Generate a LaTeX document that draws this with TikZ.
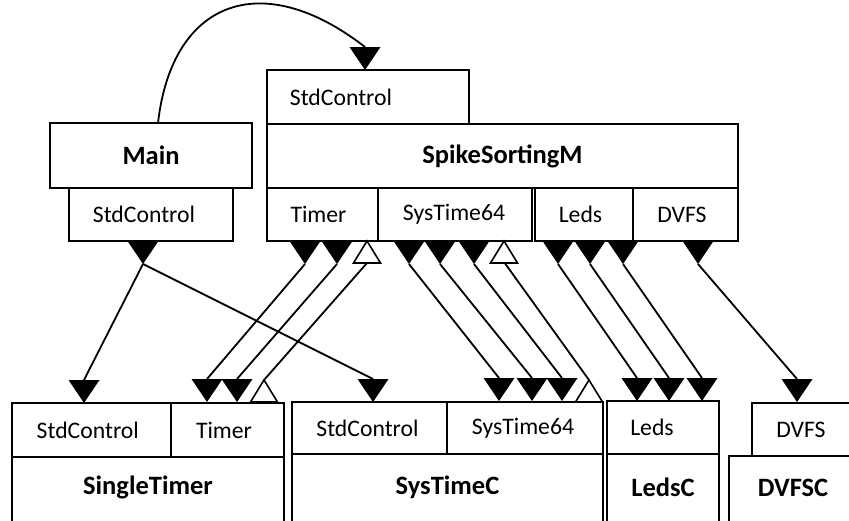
\documentclass[tikz,border=0pt]{standalone}
\usepackage{fontspec}
\setmainfont{Carlito}
\usetikzlibrary{fit}
\newcommand\lblfont{\fontsize{23.7pt}{28pt}\selectfont}
\newcommand\ttlfont{\fontsize{26.5pt}{30pt}\selectfont\bfseries}

\begin{document}
\begin{tikzpicture}[x=1pt,y=-1pt,
  box/.style={draw, line width=2pt, inner sep=0pt},
  lbl/.style={font=\lblfont, inner sep=0pt},
  ttl/.style={font=\ttlfont, inner sep=0pt},
  wire/.style={line width=1.8pt},
  sock/.pic={\fill[line join=miter] (0,0) -- (-15.5,-23) -- (15.5,-23) -- cycle;},
  plug/.pic={\draw[line width=1.6pt, fill=white, line join=miter] (0,0) -- (-13.5,22) -- (13.5,22) -- cycle;}
]
\clip (0,0) rectangle (849,520);
\fill[white] (0,0) rectangle (849,520);

% ---- Main
\node[box, fit={(50,123)(252,188)}, label={[ttl]center:Main}] (main) {};
\node[box, fit={(69,188)(233,241)}, label={[lbl,xshift=-7pt]center:StdControl}] (mainstd) {};

% ---- SpikeSortingM
\node[box, fit={(267,70)(469,124)}, label={[lbl,xshift=-27pt]center:StdControl}] (ssmstd) {};
\node[box, fit={(267,124)(738,188)}, label={[ttl]center:SpikeSortingM}] (ssm) {};
\node[box, fit={(267,188)(378,241)}, label={[lbl,xshift=-4pt]center:Timer}] (ssmtimer) {};
\node[box, fit={(378,188)(532,241)}, label={[lbl,xshift=-1pt]center:SysTime64}] (ssmsys) {};
\node[box, fit={(535,188)(633,241)}, label={[lbl,xshift=-3.5pt]center:Leds}] (ssmleds) {};
\node[box, fit={(633,188)(738,241)}, label={[lbl,xshift=-3.5pt]center:DVFS}] (ssmdvfs) {};

% ---- SingleTimer
\node[box, fit={(12,403)(171,457)}, label={[lbl,xshift=-3.7pt]center:StdControl}] (ststd) {};
\node[box, fit={(171,403)(284,457)}, label={[lbl,xshift=-3.5pt]center:Timer}] (sttimer) {};
\node[box, fit={(12,457)(284,530)}, label={[ttl,yshift=6pt]center:SingleTimer}] (st) {};

% ---- SysTimeC
\node[box, fit={(292,402)(447,454)}, label={[lbl,xshift=-2pt]center:StdControl}] (scstd) {};
\node[box, fit={(447,402)(603,454)}, label={[lbl,xshift=-2pt]center:SysTime64}] (scsys) {};
\node[box, fit={(292,454)(603,530)}, label={[ttl,yshift=5pt]center:SysTimeC}] (sc) {};

% ---- LedsC
\node[box, fit={(607,401)(719,454)}, label={[lbl,xshift=-11pt]center:Leds}] (ledsp) {};
\node[box, fit={(607,454)(719,530)}, label={[ttl,yshift=5pt]center:LedsC}] (ledsc) {};

% ---- DVFSC
\node[box, fit={(752,403)(852,456)}, label={[lbl,xshift=-1pt]center:DVFS}] (dvfsp) {};
\node[box, fit={(729,456)(857,530)}, label={[ttl,yshift=5.5pt]center:DVFSC}] (dvfsc) {};

% ---- connection points (triangle tips)
\coordinate (mstart) at (158,123);
\coordinate (ssmin)  at (365,70);
\coordinate (m1) at (143,264);
\coordinate (t1) at (305,264);
\coordinate (t2) at (337,264);
\coordinate (s1) at (409,264);
\coordinate (s2) at (440,264);
\coordinate (s3) at (474,264);
\coordinate (l1) at (558,264);
\coordinate (l2) at (590,264);
\coordinate (l3) at (623,264);
\coordinate (d1) at (698,264);
\coordinate (uo1) at (367,241);
\coordinate (uo2) at (504,241);

\coordinate (bst)  at (84,403);
\coordinate (bt1)  at (207,402);
\coordinate (bt2)  at (237,402);
\coordinate (bsc)  at (373,402);
\coordinate (bs1)  at (499,401);
\coordinate (bs2)  at (532,401);
\coordinate (bs3)  at (562,401);
\coordinate (bl1)  at (637,401);
\coordinate (bl2)  at (669,401);
\coordinate (bl3)  at (702,401);
\coordinate (bd1)  at (797,402);
\coordinate (lo1)  at (264,380);
\coordinate (lo2)  at (589,380);

% ---- wiring
\draw[wire] (mstart) .. controls (172,0) and (262,-33) .. ([yshift=23pt]ssmin);
\draw[wire] (m1) -- ([yshift=23pt]bst);
\draw[wire] (m1) -- ([yshift=23pt]bsc);
\draw[wire] (t1) -- ([yshift=23pt]bt1);
\draw[wire] (t2) -- ([yshift=23pt]bt2);
\draw[wire] ([yshift=-22pt]uo1) -- (lo1);
\draw[wire] (s1) -- ([yshift=23pt]bs1);
\draw[wire] (s2) -- ([yshift=23pt]bs2);
\draw[wire] (s3) -- ([yshift=23pt]bs3);
\draw[wire] ([yshift=-21pt]uo2) -- (lo2);
\draw[wire] (l1) -- ([yshift=23pt]bl1);
\draw[wire] (l2) -- ([yshift=23pt]bl2);
\draw[wire] (l3) -- ([yshift=23pt]bl3);
\draw[wire] (d1) -- ([yshift=23pt]bd1);

% ---- triangles
\foreach \p in {ssmin,m1,t1,t2,s1,s2,s3,l1,l2,l3,d1,bst,bt1,bt2,bsc,bs1,bs2,bs3,bl1,bl2,bl3,bd1}
  \pic at (\p) {sock};
\foreach \p in {uo1,uo2,lo1,lo2}
  \pic at (\p) {plug};
\end{tikzpicture}
\end{document}
